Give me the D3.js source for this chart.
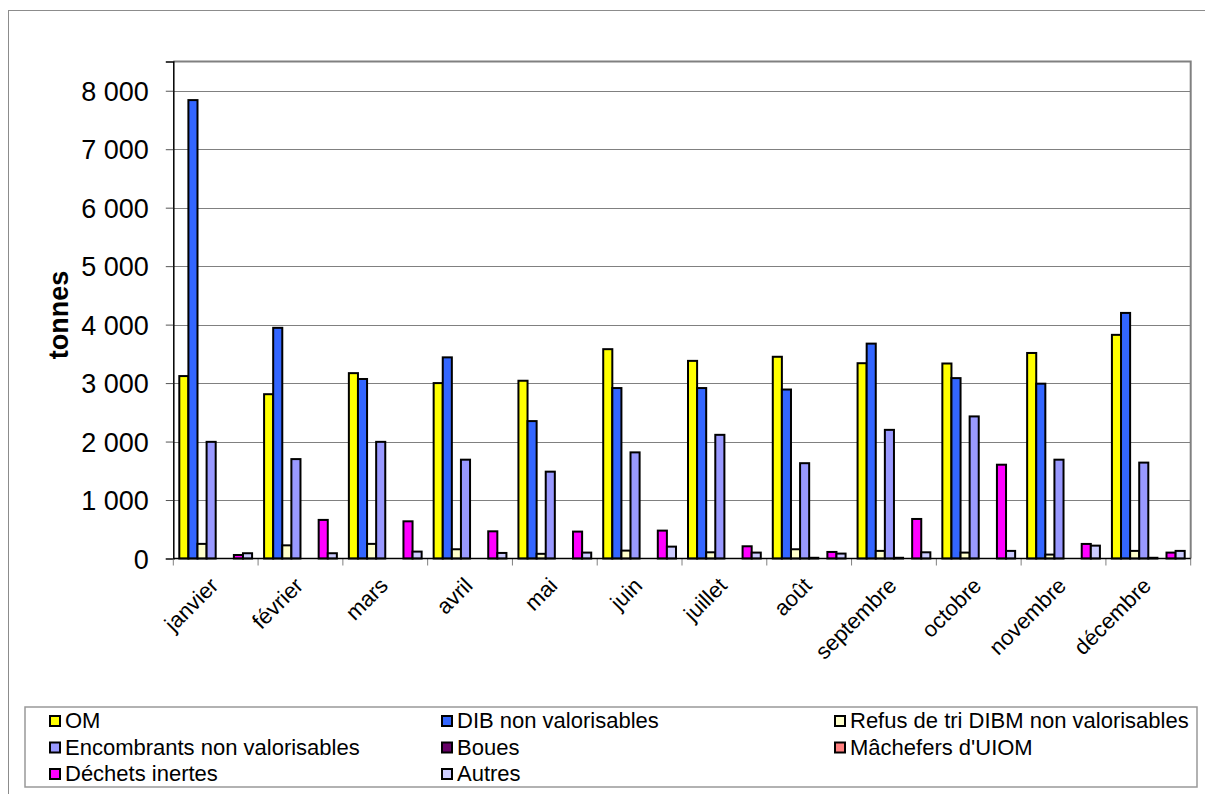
<!DOCTYPE html>
<html>
<head>
<meta charset="utf-8">
<script src="https://cdn.jsdelivr.net/npm/d3@7"></script>
<style>
  html, body { margin: 0; padding: 0; background: #fff; }
  svg { display: block; font-family: Arial, "Liberation Sans", sans-serif; }
</style>
</head>
<body>
<svg id="chart" width="1205" height="794"></svg>
<script>
const months = ["janvier", "février", "mars", "avril", "mai", "juin", "juillet", "août", "septembre", "octobre", "novembre", "décembre"];
const seriesNames = ["OM", "DIB non valorisables", "Refus de tri DIBM non valorisables", "Encombrants non valorisables", "Boues", "Mâchefers d'UIOM", "Déchets inertes", "Autres"];
const seriesColors = ["#FFFF00", "#3366FF", "#FFFFCC", "#9999FF", "#660066", "#FF8080", "#FF00FF", "#CCCCFF"];

const omValues       = [3120, 2810, 3170, 3000, 3040, 3580, 3380, 3450, 3340, 3335, 3515, 3825];
const dibValues      = [7840, 3945, 3070, 3440, 2350, 2915, 2915, 2890, 3675, 3085, 2990, 4200];
const refusValues    = [250, 225, 250, 158, 80, 135, 106, 158, 130, 101, 67, 130];
const encombValues   = [1995, 1700, 1995, 1690, 1485, 1815, 2115, 1630, 2200, 2430, 1690, 1640];
const bouesValues    = [0, 0, 0, 0, 0, 0, 0, 12, 12, 0, 0, 12];
const machefValues   = [0, 0, 0, 0, 0, 0, 0, 0, 0, 0, 0, 0];
const inertesValues  = [60, 660, 636, 465, 460, 477, 209, 112, 676, 1604, 249, 101];
const autresValues   = [90, 90, 118, 95, 101, 203, 101, 84, 106, 130, 220, 130];
const yTicks = [0, 1000, 2000, 3000, 4000, 5000, 6000, 7000, 8000];
const yMax = 8500;

const allSeries = [omValues, dibValues, refusValues, encombValues, bouesValues, machefValues, inertesValues, autresValues];

const svg = d3.select("#chart");
const plot = { left: 173.3, right: 1190.7, top: 61.5, bottom: 558.5 };

// outer chart frame
svg.append("rect").attr("x", 8.5).attr("y", 10.5).attr("width", 1400).attr("height", 1000)
  .attr("fill", "#fff").attr("stroke", "#8c8c8c").attr("stroke-width", 1);

const y = d3.scaleLinear().domain([0, yMax]).range([plot.bottom, plot.top]);
const x0 = d3.scaleBand().domain(months).range([plot.left, plot.right]).paddingInner(0).paddingOuter(0);
const x1 = d3.scaleBand().domain(d3.range(seriesNames.length)).range([0, x0.bandwidth()]).paddingInner(0).paddingOuter(0.66);

// gridlines
svg.append("g").selectAll("line").data(yTicks.filter(d => d > 0)).join("line")
  .attr("x1", plot.left).attr("x2", plot.right)
  .attr("y1", d => Math.round(y(d)) + 0.5).attr("y2", d => Math.round(y(d)) + 0.5)
  .attr("stroke", "#808080").attr("stroke-width", 1);

// plot area border (top & right)
svg.append("path")
  .attr("d", `M${plot.left},${plot.top} H${plot.right} V${plot.bottom}`)
  .attr("fill", "none").attr("stroke", "#808080").attr("stroke-width", 2);

// bars
const groups = svg.append("g").selectAll("g").data(months).join("g")
  .attr("transform", d => `translate(${x0(d)},0)`);
groups.selectAll("rect")
  .data((m, mi) => allSeries.map((s, si) => ({ si, v: s[mi] })).filter(d => d.v > 0))
  .join("rect")
  .attr("x", d => x1(d.si))
  .attr("width", x1.bandwidth())
  .attr("y", d => y(d.v))
  .attr("height", d => y(0) - y(d.v))
  .attr("fill", d => seriesColors[d.si])
  .attr("stroke", "#000").attr("stroke-width", 2);

// y axis
const yAxis = d3.axisLeft(y).tickValues(yTicks).tickSize(7.5).tickPadding(17)
  .tickFormat(d => d3.format(",")(d).replace(/,/g, " "));
const gy = svg.append("g").attr("transform", `translate(${plot.left},0)`).call(yAxis);
gy.select(".domain").attr("stroke", "#000").attr("stroke-width", 1.5);
gy.selectAll(".tick line").attr("stroke", "#555");
gy.selectAll(".tick text").attr("font-size", 27).attr("fill", "#000")
  .attr("font-family", "Arial, 'Liberation Sans', sans-serif").attr("dy", "0.36em");

// x axis baseline + ticks at category boundaries
const boundaries = months.map(m => x0(m)).concat([plot.right]);
svg.append("g").selectAll("line").data(boundaries).join("line")
  .attr("x1", d => d).attr("x2", d => d).attr("y1", plot.bottom).attr("y2", plot.bottom + 7)
  .attr("stroke", "#808080").attr("stroke-width", 1);
svg.append("line").attr("x1", plot.left).attr("x2", plot.right)
  .attr("y1", plot.bottom).attr("y2", plot.bottom).attr("stroke", "#000").attr("stroke-width", 1.5);

// x labels
svg.append("g").selectAll("text").data(months).join("text")
  .attr("transform", d => `translate(${x0(d) + x0.bandwidth() / 2 + 4},587) rotate(-45)`)
  .attr("text-anchor", "end")
  .attr("font-size", 22).attr("fill", "#000")
  .text(d => d);

// axis title
svg.append("text")
  .attr("transform", "translate(68,315) rotate(-90)")
  .attr("text-anchor", "middle").attr("font-size", 27).attr("font-weight", "bold")
  .text("tonnes");

// legend
const legend = svg.append("g");
legend.append("rect").attr("x", 25).attr("y", 707).attr("width", 1172).attr("height", 80)
  .attr("fill", "#fff").attr("stroke", "#999").attr("stroke-width", 1.5);
const colX = [65, 457, 850];
const rowY = [728, 754.5, 781];
const items = legend.selectAll("g").data(seriesNames).join("g")
  .attr("transform", (d, i) => `translate(${colX[i % 3]},${rowY[Math.floor(i / 3)]})`);
items.append("rect").attr("x", -15).attr("y", -12).attr("width", 10).attr("height", 10)
  .attr("fill", (d, i) => seriesColors[i]).attr("stroke", "#000").attr("stroke-width", 2);
items.append("text").attr("x", 0).attr("y", 0).attr("font-size", 22).attr("fill", "#000").text(d => d);
</script>
</body>
</html>
